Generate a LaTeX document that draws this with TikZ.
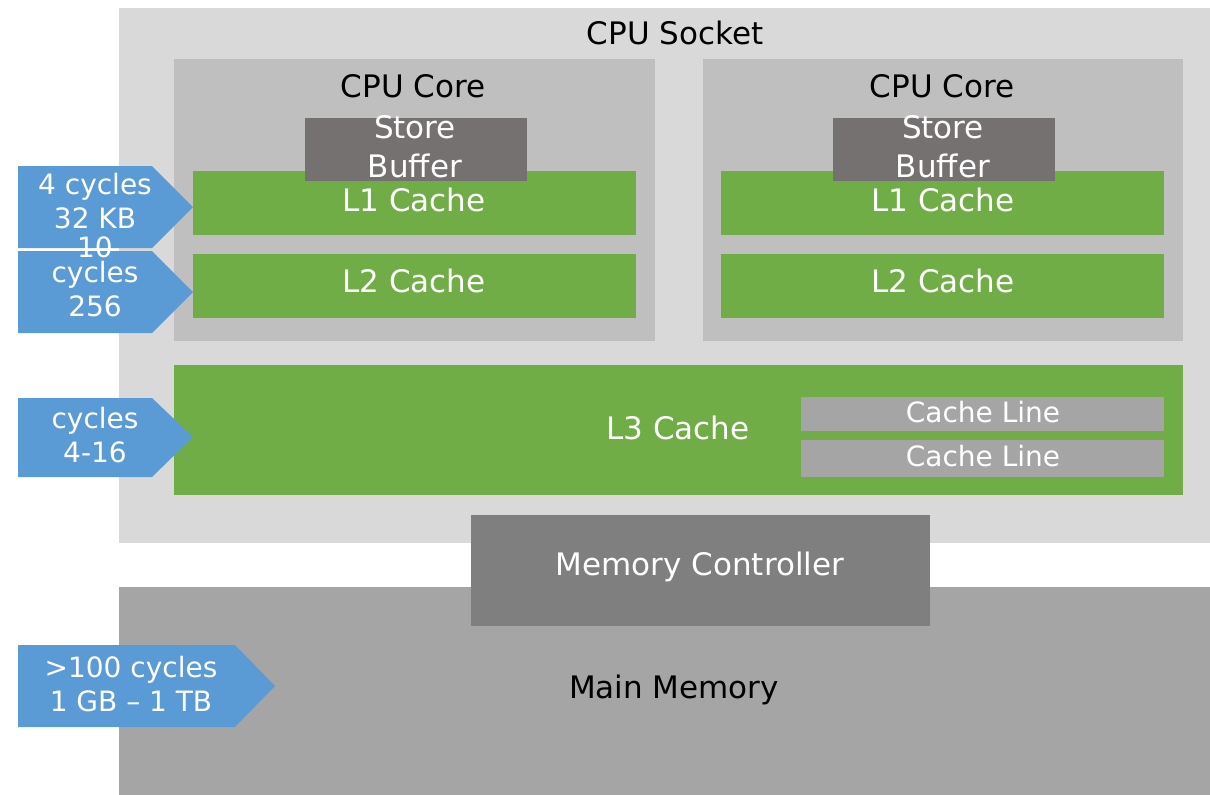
\documentclass[tikz,border=0pt]{standalone}
\usepackage{fontspec}
\setmainfont{DejaVu Sans}
\definecolor{socketc}{HTML}{D9D9D9}
\definecolor{corec}{HTML}{BFBFBF}
\definecolor{cachec}{HTML}{70AD47}
\definecolor{sbc}{HTML}{767171}
\definecolor{linec}{HTML}{A5A5A5}
\definecolor{mcc}{HTML}{7F7F7F}
\definecolor{memc}{HTML}{A5A5A5}
\definecolor{arrc}{HTML}{5B9BD5}
\tikzset{
  box/.style={anchor=north west, inner sep=0pt, outer sep=0pt, draw=none},
  wtxt/.style={text=white, font=\fontsize{31}{38}\selectfont, align=center, inner sep=0pt},
  btxt/.style={text=black, font=\fontsize{31}{38}\selectfont, align=center, inner sep=0pt},
  atxt/.style={text=white, font=\fontsize{28}{34}\selectfont, align=center, inner sep=0pt},
  sigarrow/.style={fill=arrc},
}
\begin{document}
\begin{tikzpicture}[x=1pt,y=-1pt]
\useasboundingbox (0,0) rectangle (1210,795);
% socket
\node[box, fill=socketc, minimum width=1091pt, minimum height=535pt] (socket) at (119,8) {};
\node[btxt] (sockettxt) at (675,33) {CPU Socket};
% main memory
\node[box, fill=memc, minimum width=1091pt, minimum height=208pt] (mem) at (119,587) {};
\node[btxt] (memtxt) at (674,690) {Main Memory};
% memory controller
\node[box, fill=mcc, minimum width=459pt, minimum height=111pt] (mc) at (471,515) {};
\node[wtxt] (mctxt) at (700,567) {Memory Controller};
% cores
\node[box, fill=corec, minimum width=481pt, minimum height=282pt] (core1) at (174,59) {};
\node[box, fill=corec, minimum width=480pt, minimum height=282pt] (core2) at (703,59) {};
\node[btxt] (core1txt) at (413,86) {CPU Core};
\node[btxt] (core2txt) at (942,86) {CPU Core};
% L1 / L2
\node[box, fill=cachec, minimum width=443pt, minimum height=64pt] (l1a) at (193,171) {};
\node[box, fill=cachec, minimum width=443pt, minimum height=64pt] (l2a) at (193,254) {};
\node[box, fill=cachec, minimum width=443pt, minimum height=64pt] (l1b) at (721,171) {};
\node[box, fill=cachec, minimum width=443pt, minimum height=64pt] (l2b) at (721,254) {};
\node[wtxt] (l1atxt) at (414,200) {L1 Cache};
\node[wtxt] (l2atxt) at (414,281) {L2 Cache};
\node[wtxt] (l1btxt) at (943,200) {L1 Cache};
\node[wtxt] (l2btxt) at (943,281) {L2 Cache};
% store buffers
\node[box, fill=sbc, minimum width=222pt, minimum height=63pt] (sba) at (305,118) {};
\node[box, fill=sbc, minimum width=222pt, minimum height=63pt] (sbb) at (833,118) {};
\node[wtxt, font=\fontsize{31}{39}\selectfont] (sbatxt) at (415,147) {Store\\Buffer};
\node[wtxt, font=\fontsize{31}{39}\selectfont] (sbbtxt) at (943,147) {Store\\Buffer};
% L3
\node[box, fill=cachec, minimum width=1009pt, minimum height=130pt] (l3) at (174,365) {};
\node[wtxt] (l3txt) at (678,428) {L3 Cache};
\node[box, fill=linec, minimum width=363pt, minimum height=34pt] (cl1) at (801,397) {};
\node[box, fill=linec, minimum width=363pt, minimum height=37pt] (cl2) at (801,440) {};
\node[wtxt, font=\fontsize{28}{30}\selectfont] (cl1txt) at (983,412) {Cache Line};
\node[wtxt, font=\fontsize{28}{30}\selectfont] (cl2txt) at (983,456) {Cache Line};
% arrows
\fill[sigarrow] (18,166) -- (152,166) -- (193,207) -- (152,248) -- (18,248) -- cycle;
\fill[sigarrow] (18,251) -- (152,251) -- (193,292) -- (152,333) -- (18,333) -- cycle;
\fill[sigarrow] (18,398) -- (152,398) -- (193,437) -- (152,477) -- (18,477) -- cycle;
\fill[sigarrow] (18,645) -- (235,645) -- (275,686) -- (235,727) -- (18,727) -- cycle;
\node[atxt] (a1txt) at (95,201) {4 cycles\\32 KB};
\node[atxt] (a2top) at (95,247) {10};
\node[atxt] (a2txt) at (95,289) {cycles\\256};
\node[atxt] (a3txt) at (95,435) {cycles\\4-16};
\node[atxt] (a4txt) at (131,684) {>100 cycles\\1 GB – 1 TB};
\end{tikzpicture}
\end{document}
